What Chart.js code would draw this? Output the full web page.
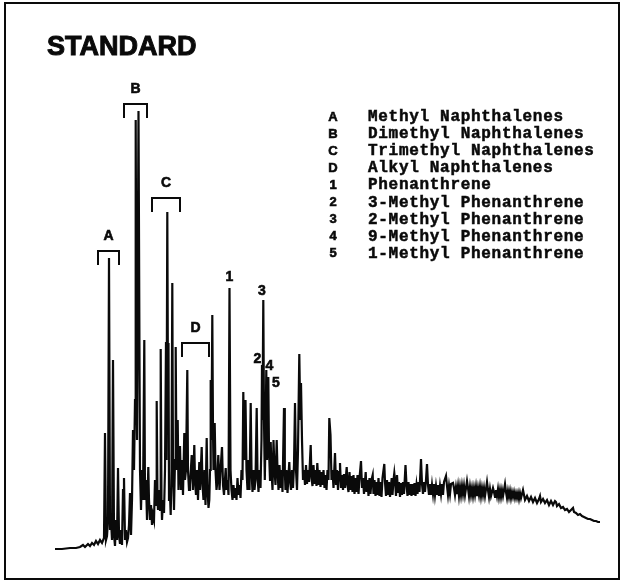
<!DOCTYPE html>
<html>
<head>
<meta charset="utf-8">
<script src="https://cdn.jsdelivr.net/npm/chart.js@4"></script>
<style>
  html, body { margin: 0; padding: 0; background: #fff; }
  #wrap { width: 624px; height: 582px; position: relative; }
</style>
</head>
<body>
<div id="wrap"><canvas id="chrom"></canvas></div>
<script>
// retention (x) vs detector response (y)
const naphthaleneRegion = [
  [55,33],[62,33],[70,34],[76,34],[80,35],[83,37],[85,35],[88,38],[90,36],[92,39],[94,37],[96,41],[98,38],[100,42],
  [102,39],[104,44],[105,149],[106,42],[107,46],[108,62],[109,324],[110,52],[111,62],[112,42],[113,222],[114,47],
  [115,36],[116,62],[117,42],[118,114],[119,47],[120,38],[121,52],[122,37],[123,92],[124,104],[125,42],[126,52],
  [127,40],[128,44],[129,57],[130,89],[131,47],[132,82],[133,152],[134,112],[135,182],[135.7,462],[136.5,202],
  [137,142],[138.5,471],[139.5,222],[140,112],[141,72],[142,112],[143,82],[144.3,242],[145,82],[146,102],[147,62],
  [148.3,115],[149,82],[150,62],[151,77],[152,57],[153,67],[154,62],[155,102],[156,77],[156.7,181],[157.5,82],
  [158,72],[159,92],[160,72],[160.7,233],[161.5,82],[162,62],[163,82],[164,69],[165,112],[166,240],[166.5,122],
  [167.3,370],[168,182],[168.5,239],[169,82],[170,87],[170.7,67],[171.5,112],[172.3,299],[173,112],[174,72],
  [175,122],[175.7,235],[176.5,112],[177.7,162],[178.5,92],[179,112],[180,136],[181,92],[182,122],[183,87],
  [184.3,149],[185,102],[186,112],[187.3,212],[188,112],[189,92],[190,97],[191.7,127],[193,92],[194.3,137],
  [195,102],[196,87],[197,112],[198,82],[199.3,120],[200,92],[201.7,135],[202.5,97],[203.5,82],[204.5,112],
  [205.5,77],[206.7,144],[207.5,92],[208.5,74],[209.3,82],[210,112],[210.7,202],[211.5,142],[212.3,267],[213,152],
  [213.5,112],[214.7,159],[215.5,112],[216.5,92],[217,97],[218.3,127],[219.5,92],[220.5,112],[222,135],[223,97],
  [224,87],[225.7,114],[226.5,92],[227.5,102],[228.5,87]
];

const phenanthreneRegion = [
  [229.5,294],[230.5,112],[231.5,92],[232.5,82],[233.5,97],[234.5,84],[235.5,94],[236.5,82],[237.5,104],[238.5,87],
  [239.5,97],[240.5,84],[241.5,112],[242.5,102],[243.3,190],[244.2,122],[245.5,182],[246.5,112],[247.5,92],
  [248.5,122],[249.5,92],[250.7,179],[251.5,112],[252.5,90],[253.5,112],[254.5,92],[255.5,102],[256.7,174],
  [257.5,107],[258.5,90],[259.5,112],[260.5,94],[261.5,142],[262,217],[262.5,162],[263.3,282],[264,162],[264.8,102],
  [265.5,142],[266.3,212],[267,122],[268.3,205],[269,132],[270,102],[270.7,140],[271.5,112],[272.5,92],[273.5,142],
  [274.5,112],[275.5,97],[276.7,142],[277.5,112],[278.5,92],[279.5,117],[280.5,94],[281.5,112],[282.5,90],[284,174],
  [284.8,112],[285.5,92],[286.5,112],[287.5,89],[289.3,120],[290,102],[291,92],[292,112],[293,94],[294,117],[295,179],
  [296,112],[297,92],[298,132],[299.3,228],[300.3,162],[301,199],[302,142],[303,102],[304,112],[305,97],[306,117],
  [307,98],[308,112],[309,100],[310.7,137],[311.5,104],[312.5,96],[313.5,117],[314.5,98],[315.5,112],[316.5,96],
  [317.3,119],[318.5,97],[319.5,112],[320.5,95],[321.5,110],[322.5,97],[323.5,112],[324.5,94],[325.5,107],[326.5,92],
  [327.5,112],[328.5,102],[329.3,164],[330.5,147],[331.5,102],[332.5,112],[333.5,94],[335,129],[336,97],[337,112],
  [338,92],[339,110],[340,119],[341,94],[342,107],[343,92],[344,108],[345,94],[346.7,115],[347.5,97],[348.5,90],
  [349.5,110],[350.5,92],[351.5,106],[352.5,90],[353.5,107],[354.5,88],[355.5,104],[356.5,90],[357.5,107],[358.5,88],
  [359.5,104],[361,121],[362,94],[363,104],[364,88],[365.7,110],[366.5,90],[367.5,102],[368.5,86],[369.5,104],
  [370.5,88],[371.5,102],[372.7,107],[373.5,88],[374.5,102],[375.5,86],[376.5,100],[377.5,87],[378.5,104],[379.5,86],
  [380.5,100],[381.5,85],[382.5,104],[384.3,118],[385,100],[386,86],[387,102],[388,87],[389,100],[390,85],[391.7,104],
  [392.5,87],[393.5,102],[394.3,109],[395,102],[396,86],[397,107],[398,90],[399,100]
];

const tailRegion = [
  [400,85],[401,99],[402,87],[403,100],[404,88],[405.5,117],[406.5,97],[407.5,86],[408.5,100],[409.5,87],[410.5,98],
  [411.5,86],[412.5,98],[413.5,87],[414.5,99],[415.5,86],[416.5,97],[417.5,88],[418.5,100],[419.5,90],[421,123],
  [422,98],[423,88],[424,100],[425,90],[426,102],[427,118],[428,97],[429,87],[430,98],[431,87],[432,97],[433,88],
  [434,98],[435,87],[436,96],[437,88],[438,97],[439,86],[440,96],[441,88],[442,98],[443,87],[444,100],[446,106],
  [447,96],[448,87],[449,96],[450,88],[451,98],[453,99],[454,94],[455,87],[456,95],[457,88],[458,96],[459,86],
  [460,95],[461,87],[462,96],[463,88],[464,96],[465,87],[467,101],[468,94],[469,86],[470,95],[471,87],[472,94],
  [473,86],[474,94],[475,87],[476,95],[477,86],[478,94],[479,87],[480,95],[481,86],[482,94],[483,87],[484,94],
  [485,86],[487,100],[488,92],[489,85],[490,93],[491,86],[493,94],[494,90],[495,85],[496,92],[497,86],[498,93],
  [499,85],[500,92],[501,85],[502,92],[503,86],[505,98],[506,90],[507,84],[508,91],[509,85],[510,91],[511,84],
  [512,90],[513,85],[514,90],[515,84],[516,89],[517,84],[518,89],[519,83],[520,89],[521,84],[523,92],[524,87],
  [525,82],[527,86],[529,81],[531,85],[533,80],[535,84],[537,79],[539,83],[540,86],[541,80],[543,83],[545,79],
  [547,82],[549,77],[551,81],[553,77],[555,81],[556,80],[557,76],[559,78],[561,74],[563,75],[565,72],[567,73],
  [569,70],[571,72],[573,74],[574,70],[576,69],[578,67],[580,68],[582,66],[584,65],[586,64],[588,63],[590,63],
  [592,62],[594,61],[596,61],[598,60],[600,60]
];

// compound groups marked with brackets
const groupKeys = ['A', 'B', 'C', 'D'];
const groupFrom = [98, 124, 152, 182];
const groupTo = [119, 147, 180, 209];
const groupLevel = [331, 478, 384, 239];

// numbered peaks: retention and label height
const peakKeys = ['1', '2', '3', '4', '5'];
const peakAt = [229.5, 257.5, 262, 269.5, 276];
const peakLabelLevel = [305, 223, 291, 216, 199];

const legendKeys = ['A', 'B', 'C', 'D', '1', '2', '3', '4', '5'];
const legendNames = [
  'Methyl Naphthalenes', 'Dimethyl Naphthalenes', 'Trimethyl Naphthalenes', 'Alkyl Naphthalenes',
  'Phenanthrene', '3-Methyl Phenanthrene', '2-Methyl Phenanthrene', '9-Methyl Phenanthrene', '1-Methyl Phenanthrene'
];

const trace = [...naphthaleneRegion, ...phenanthreneRegion, ...tailRegion].map(([t, r]) => ({ x: t, y: r }));

const ink = '#0a0a0a';
const sans = '"Liberation Sans", Arial, sans-serif';
const mono = '"Liberation Mono", "Courier New", monospace';

// draws text filled plus a thin outline so it reads as heavy as the print
const heavyText = (ctx, s, x, y, w) => {
  ctx.fillText(s, x, y);
  ctx.lineWidth = w;
  ctx.strokeText(s, x, y);
};

const decorations = {
  id: 'decorations',
  beforeDraw(chart) {
    const ctx = chart.ctx;
    ctx.save();
    ctx.fillStyle = '#fff';
    ctx.fillRect(0, 0, chart.width, chart.height);
    ctx.restore();
  },
  afterDraw(chart) {
    const ctx = chart.ctx;
    const xs = chart.scales.x, ys = chart.scales.y;
    ctx.save();

    // frame
    ctx.strokeStyle = ink;
    ctx.lineWidth = 2;
    ctx.strokeRect(5, 3, 614, 576);

    ctx.fillStyle = ink;
    ctx.font = 'bold 27px ' + sans;
    ctx.textBaseline = 'alphabetic';
    ctx.textAlign = 'left';
    heavyText(ctx, 'STANDARD', 47, 55, 1);

    // brackets
    ctx.textAlign = 'center';
    ctx.textBaseline = 'middle';
    ctx.font = 'bold 14px ' + sans;
    groupKeys.forEach((k, i) => {
      const x0 = xs.getPixelForValue(groupFrom[i]);
      const x1 = xs.getPixelForValue(groupTo[i]);
      const y = ys.getPixelForValue(groupLevel[i]);
      ctx.lineWidth = 2;
      ctx.beginPath();
      ctx.moveTo(x0, y + 14);
      ctx.lineTo(x0, y);
      ctx.lineTo(x1, y);
      ctx.lineTo(x1, y + 14);
      ctx.stroke();
      heavyText(ctx, k, (x0 + x1) / 2, y - 15, 0.6);
    });

    peakKeys.forEach((k, i) => {
      heavyText(ctx, k, xs.getPixelForValue(peakAt[i]), ys.getPixelForValue(peakLabelLevel[i]), 0.6);
    });

    // legend
    legendKeys.forEach((k, i) => {
      const y = 117 + i * 17.1;
      ctx.font = 'bold 13px ' + sans;
      ctx.textAlign = 'center';
      heavyText(ctx, k, 333, y, 0.6);
      ctx.font = 'bold 16px ' + mono;
      ctx.textAlign = 'left';
      ctx.letterSpacing = '0.7px';
      heavyText(ctx, legendNames[i], 368, y, 0.5);
      ctx.letterSpacing = '0px';
    });
    ctx.restore();
  }
};

new Chart(document.getElementById('chrom').getContext('2d'), {
  type: 'line',
  data: {
    datasets: [{
      label: 'Standard',
      data: trace,
      borderColor: ink,
      borderWidth: 2.2,
      pointRadius: 0,
      tension: 0,
      fill: false
    }]
  },
  options: {
    responsive: true, maintainAspectRatio: false, animation: false,
    layout: { padding: 0 },
    scales: {
      x: { type: 'linear', min: 0, max: 624, display: false },
      y: { min: 0, max: 582, display: false }
    },
    plugins: { legend: { display: false }, tooltip: { enabled: false } }
  },
  plugins: [decorations]
});
</script>
</body>
</html>
